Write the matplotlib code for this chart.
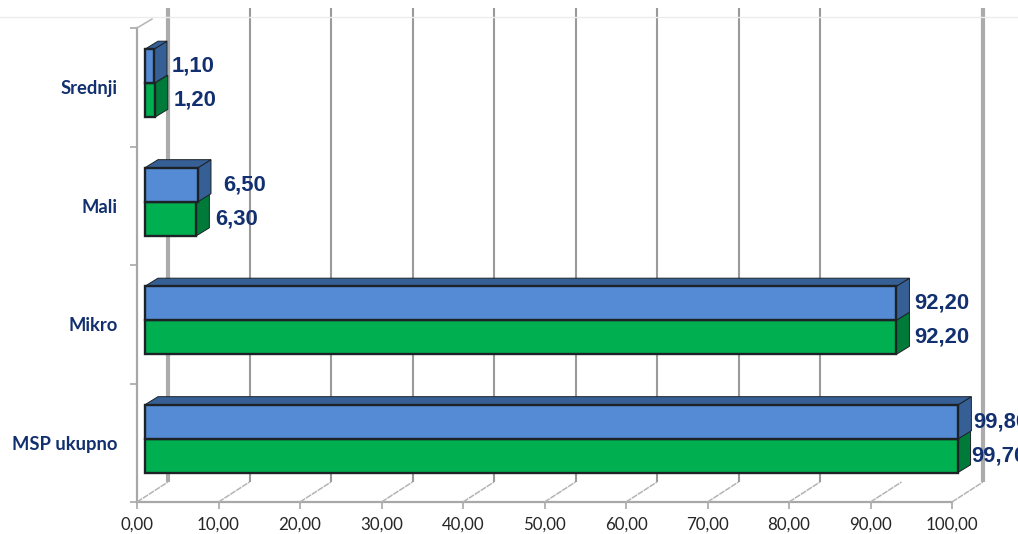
import matplotlib
matplotlib.use('Agg')
import matplotlib.pyplot as plt
from matplotlib.patches import Polygon
from matplotlib.transforms import Affine2D, IdentityTransform

# Values (bottom to top)
categories = ['MSP ukupno', 'Mikro', 'Mali', 'Srednji']
series_blue = [99.8, 92.2, 6.5, 1.1]
series_green = [99.7, 92.2, 6.3, 1.2]
value_ticks = [0, 10, 20, 30, 40, 50, 60, 70, 80, 90, 100]
grid_values = [10, 20, 30, 40, 50, 60, 70, 80]  # no line at 90 in the original

# Small extra gaps (px) between bar and label, as in the original
gap_blue = [2, 5, 12, 5]
gap_green = [1, 5, 6, 6]

W, H = 1018, 534
BLUE, BLUE_DARK = '#558ad4', '#365f96'
GREEN, GREEN_DARK = '#00b050', '#007a38'
AXIS_GREY = '#a8a8a8'
TEXT_BLUE = '#12306f'
EDGE = '#1c2226'

fig = plt.figure(figsize=(W / 100, H / 100), dpi=100)
x0, x1, y_bot, y_top = 137, 952, 502, 28
ax = fig.add_axes([x0 / W, 1 - y_bot / H, (x1 - x0) / W, (y_bot - y_top) / H])
ax.set_xlim(0, 100)
ax.set_ylim(-0.5, 3.5)
for s in ['top', 'right']:
    ax.spines[s].set_visible(False)
for s in ['left', 'bottom']:
    ax.spines[s].set_color(AXIS_GREY)
    ax.spines[s].set_linewidth(1.6)

# axis ticks and labels
ax.set_xticks(value_ticks)
ax.set_xticklabels([f'{v:.2f}'.replace('.', ',') for v in value_ticks],
                   family='Lato', fontsize=12.2, color='#262626')
ax.tick_params(axis='x', length=5, width=1.2, color=AXIS_GREY, pad=5.5)
ax.set_yticks([-0.5, 0.5, 1.5, 2.5, 3.5])
ax.set_yticklabels([])
ax.tick_params(axis='y', length=5, width=1.2, color=AXIS_GREY)
ax.set_yticks(range(4), minor=True)
ax.set_yticklabels(categories, minor=True, family='Lato', fontweight='bold',
                   fontsize=13.2, color=TEXT_BLUE)
ax.tick_params(axis='y', which='minor', length=0, pad=14)

# back wall and floor, shifted away from the front plane in pixels
back = ax.transData + Affine2D().translate(31, 20)
ax.vlines(grid_values, -0.5, 3.5, colors='#9a9a9a', linewidth=1.5,
          transform=back, clip_on=False, zorder=1)
ax.vlines([0, 100], -0.5, 3.5, colors='#ababab', linewidth=3,
          transform=back, clip_on=False, zorder=1)
for v in value_ticks:
    (px, py) = ax.transData.transform((v, -0.5))
    fig.add_artist(plt.Line2D([px / W, (px + 31) / W], [py / H, (py + 20) / H],
                              color='#b4b4b4', linewidth=1.1, linestyle=(0, (4, 0.6)), zorder=1))
(px, py) = ax.transData.transform((0, 3.5))
fig.add_artist(plt.Line2D([px / W, (px + 15) / W], [py / H, (py + 9) / H],
                          color='#b4b4b4', linewidth=1.1, zorder=1))

# bars: front face, then side and top faces from the same values
bar_h = 0.2875
front_dx, front_dy = 8, 4
depth_dx, depth_dy = 13, 8
front = ax.transData + Affine2D().translate(front_dx, front_dy)
positions = list(range(4))


def faces(values, centre_off, face, dark, top_face):
    ax.barh([p + centre_off for p in positions], values, height=bar_h, color=face,
            edgecolor=EDGE, linewidth=1.7, transform=front, clip_on=False, zorder=4)
    for p, v in zip(positions, values):
        lo, hi = p + centre_off - bar_h / 2, p + centre_off + bar_h / 2
        (xa, ya) = front.transform((0, lo))
        (xb, yb) = front.transform((v, hi))
        side = [(xb, ya), (xb + depth_dx, ya + depth_dy), (xb + depth_dx, yb + depth_dy), (xb, yb)]
        ax.add_patch(Polygon(side, closed=True, facecolor=dark, edgecolor=EDGE, linewidth=0.7,
                             transform=IdentityTransform(), clip_on=False, zorder=3))
        if top_face:
            top = [(xa, yb), (xa + depth_dx, yb + depth_dy), (xb + depth_dx, yb + depth_dy), (xb, yb)]
            ax.add_patch(Polygon(top, closed=True, facecolor=dark, edgecolor=EDGE, linewidth=0.7,
                                 transform=IdentityTransform(), clip_on=False, zorder=3))


faces(series_green, -bar_h / 2, GREEN, GREEN_DARK, False)
faces(series_blue, bar_h / 2, BLUE, BLUE_DARK, True)

# value labels
for values, off, gaps in [(series_blue, bar_h / 2, gap_blue), (series_green, -bar_h / 2, gap_green)]:
    for p, v, g in zip(positions, values, gaps):
        (xb, yb) = front.transform((v, p + off))
        ax.text(xb + depth_dx + g, yb, f'{v:.2f}'.replace('.', ','), transform=IdentityTransform(),
                family='Liberation Sans', fontweight='bold', fontsize=15.8, color=TEXT_BLUE,
                ha='left', va='center', clip_on=False, zorder=6)

# thin line at the top of the picture
fig.add_artist(plt.Line2D([0, 1], [1 - 17 / H, 1 - 17 / H], color='#ececec', linewidth=1))

fig.savefig('out.png', dpi=100)
